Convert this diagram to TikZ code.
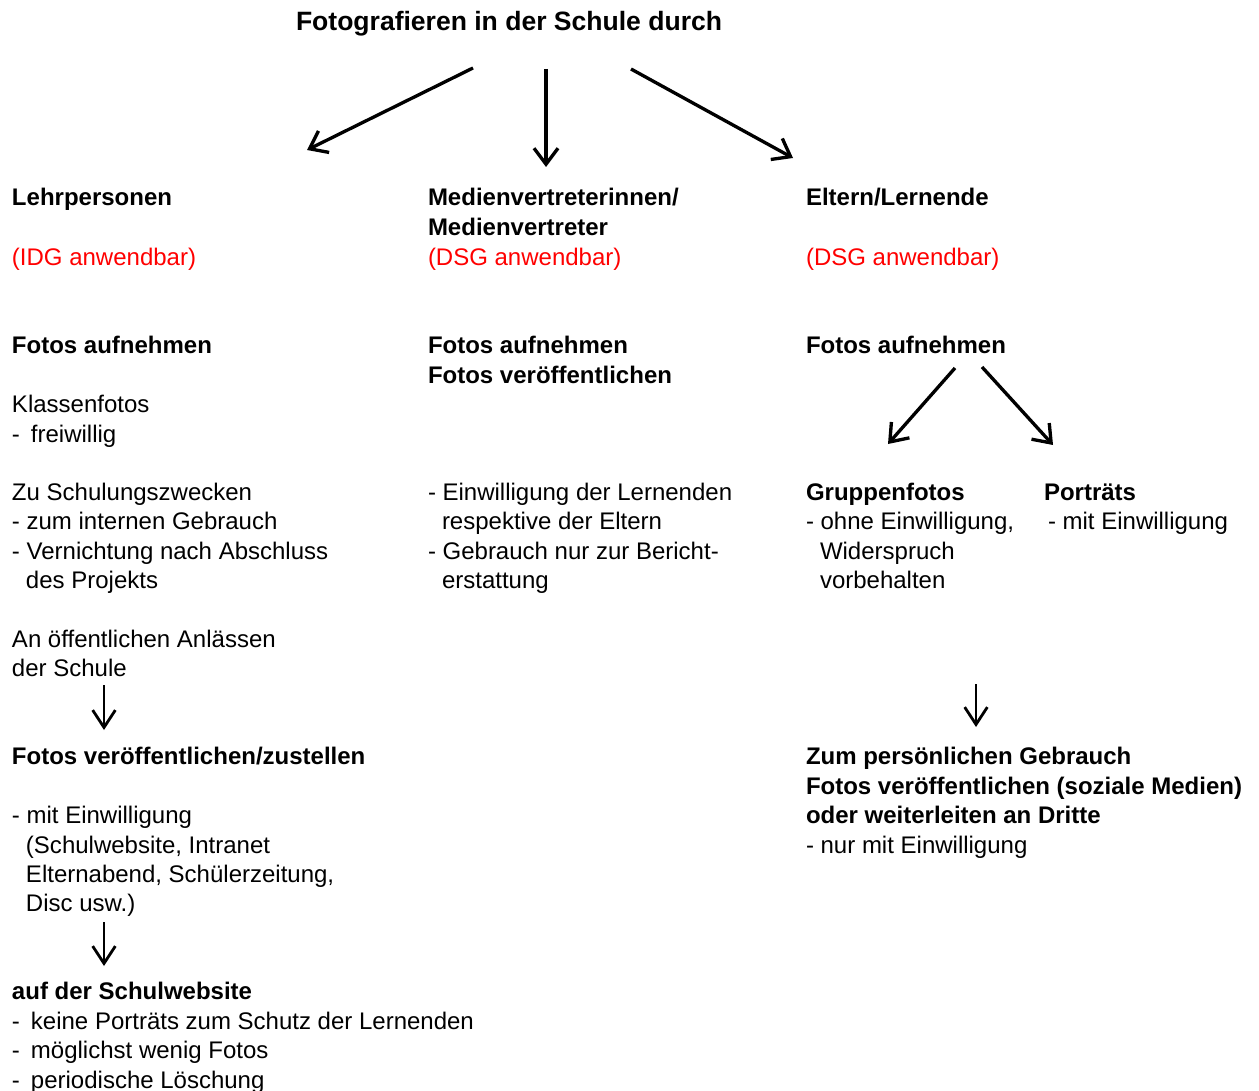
\documentclass[tikz,border=0pt]{standalone}
\usepackage{fontspec}
\setmainfont{Liberation Sans}
\usetikzlibrary{arrows.meta}
\definecolor{lawred}{RGB}{255,0,0}
\tikzset{
  txt/.style={anchor=base west,inner sep=0pt,outer sep=0pt,font=\fontsize{18pt}{22pt}\selectfont},
  hd/.style={txt,font=\fontsize{18pt}{22pt}\selectfont\bfseries},
  ttl/.style={txt,font=\fontsize{19.9pt}{24pt}\selectfont\bfseries},
  rd/.style={txt,text=lawred},
  bigarrow/.style={line width=2.5pt,-{Straight Barb[length=12pt,width=18pt,line width=2.5pt]}},
  smallarrow/.style={line width=2.1pt,-{Straight Barb[length=13pt,width=17pt,line width=2.1pt]}}
}
\begin{document}
\begin{tikzpicture}[x=0.75pt,y=-0.75pt]
\useasboundingbox (0,0) rectangle (1259,1091);
% title
\node[ttl] (title) at (296,31) {Fotografieren in der Schule durch};
% column 1
\node[hd] (c1h) at (12,206) {Lehrpersonen};
\node[rd] (c1r) at (12,266) {(IDG anwendbar)};
\node[hd] (c1a) at (12,353) {Fotos aufnehmen};
\node[txt] (c1b) at (12,412) {Klassenfotos};
\node[txt] (c1c) at (12,442) {-\hspace{8.25pt}freiwillig};
\node[txt] (c1d) at (12,500) {Zu Schulungszwecken};
\node[txt] (c1e) at (12,529) {- zum internen Gebrauch};
\node[txt] (c1f) at (12,559) {- Vernichtung nach Abschluss};
\node[txt] (c1g) at (26,588) {des Projekts};
\node[txt] (c1h2) at (12,647) {An öffentlichen Anlässen};
\node[txt] (c1i) at (12,676) {der Schule};
\node[hd] (c1j) at (12,764) {Fotos veröffentlichen/zustellen};
\node[txt] (c1k) at (12,823) {- mit Einwilligung};
\node[txt] (c1l) at (26,853) {(Schulwebsite, Intranet};
\node[txt] (c1m) at (26,882) {Elternabend, Schülerzeitung,};
\node[txt] (c1n) at (26,911) {Disc usw.)};
\node[hd] (c1o) at (12,999) {auf der Schulwebsite};
\node[txt] (c1p) at (12,1029) {-\hspace{8.25pt}keine Porträts zum Schutz der Lernenden};
\node[txt] (c1q) at (12,1058) {-\hspace{8.25pt}möglichst wenig Fotos};
\node[txt] (c1s) at (12,1088) {-\hspace{8.25pt}periodische Löschung};
% column 2
\node[hd] (c2h) at (428,206) {Medienvertreterinnen/};
\node[hd] (c2h2) at (428,236) {Medienvertreter};
\node[rd] (c2r) at (428,266) {(DSG anwendbar)};
\node[hd] (c2a) at (428,353) {Fotos aufnehmen};
\node[hd] (c2b) at (428,383) {Fotos veröffentlichen};
\node[txt] (c2c) at (428,500) {- Einwilligung der Lernenden};
\node[txt] (c2d) at (442,529) {respektive der Eltern};
\node[txt] (c2e) at (428,559) {- Gebrauch nur zur Bericht-};
\node[txt] (c2f) at (442,588) {erstattung};
% column 3
\node[hd] (c3h) at (806,206) {Eltern/Lernende};
\node[rd] (c3r) at (806,266) {(DSG anwendbar)};
\node[hd] (c3a) at (806,353) {Fotos aufnehmen};
\node[hd] (c3g) at (806,500) {Gruppenfotos};
\node[txt] (c3g1) at (806,529) {- ohne Einwilligung,};
\node[txt] (c3g2) at (820,559) {Widerspruch};
\node[txt] (c3g3) at (820,588) {vorbehalten};
\node[hd] (c3p) at (1044,500) {Porträts};
\node[txt] (c3p1) at (1048,529) {- mit Einwilligung};
\node[hd] (c3z) at (806,764) {Zum persönlichen Gebrauch};
\node[hd] (c3z1) at (806,794) {Fotos veröffentlichen (soziale Medien)};
\node[hd] (c3z2) at (806,823) {oder weiterleiten an Dritte};
\node[txt] (c3z3) at (806,853) {- nur mit Einwilligung};
% arrow end points
\coordinate (a1s) at (473,68);  \coordinate (a1e) at (307,150);
\coordinate (a2s) at (546,69);  \coordinate (a2e) at (546,167);
\coordinate (a3s) at (631,69);  \coordinate (a3e) at (793,158);
\coordinate (a4s) at (955,368); \coordinate (a4e) at (888,444);
\coordinate (a5s) at (982,367); \coordinate (a5e) at (1053,445);
\coordinate (a6s) at (104,685); \coordinate (a6e) at (104,730);
\coordinate (a7s) at (104,922); \coordinate (a7e) at (104,966);
\coordinate (a8s) at (976,684); \coordinate (a8e) at (976,727);
\draw[bigarrow] (a1s) -- (a1e);
\draw[bigarrow] (a2s) -- (a2e);
\draw[bigarrow] (a3s) -- (a3e);
\draw[bigarrow] (a4s) -- (a4e);
\draw[bigarrow] (a5s) -- (a5e);
\draw[smallarrow] (a6s) -- (a6e);
\draw[smallarrow] (a7s) -- (a7e);
\draw[smallarrow] (a8s) -- (a8e);
\end{tikzpicture}
\end{document}
